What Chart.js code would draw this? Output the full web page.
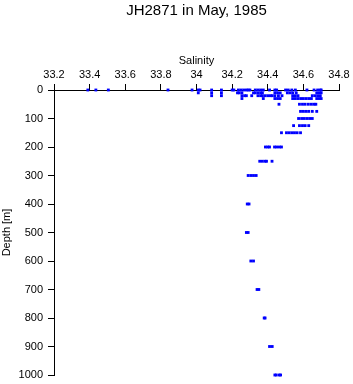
<!DOCTYPE html>
<html>
<head>
<meta charset="utf-8">
<script src="https://cdn.jsdelivr.net/npm/chart.js@4/dist/chart.umd.min.js"></script>
<style>
  body { margin: 0; background: #fff; }
  canvas { display: block; }
</style>
</head>
<body>
<canvas id="profile" width="353" height="384"></canvas>
<script>
// sampled depths (m) and the salinities measured at each of them
const depths = [0, 10, 20, 30, 50, 75, 100, 125, 150, 200, 250, 300, 400, 500, 600, 700, 800, 900, 1000];
const salinities = [
    [33.39, 33.435, 33.505, 33.84, 33.975, 34.01, 34.02, 34.085, 34.14, 34.2, 34.21, 34.235, 34.25, 34.265, 34.28, 34.29, 34.3, 34.33, 34.345, 34.36, 34.375, 34.41, 34.44, 34.45, 34.5, 34.515, 34.535, 34.555, 34.62, 34.66, 34.68, 34.695, 34.7],
    [34.01, 34.085, 34.14, 34.23, 34.24, 34.255, 34.32, 34.33, 34.345, 34.36, 34.37, 34.44, 34.455, 34.47, 34.51, 34.525, 34.54, 34.56, 34.675, 34.69, 34.7],
    [34.085, 34.14, 34.255, 34.27, 34.28, 34.31, 34.345, 34.36, 34.37, 34.385, 34.4, 34.415, 34.425, 34.44, 34.46, 34.48, 34.54, 34.555, 34.57, 34.65, 34.665, 34.68, 34.695],
    [34.255, 34.375, 34.44, 34.455, 34.47, 34.54, 34.555, 34.57, 34.585, 34.6, 34.615, 34.63, 34.645, 34.675, 34.69, 34.7],
    [34.463, 34.578, 34.595, 34.61, 34.628, 34.645, 34.66, 34.67],
    [34.584, 34.6, 34.615, 34.63, 34.65, 34.675],
    [34.573, 34.59, 34.605, 34.62, 34.635, 34.65],
    [34.545, 34.578, 34.595, 34.61, 34.63],
    [34.477, 34.505, 34.52, 34.535, 34.55, 34.565, 34.584],
    [34.387, 34.4, 34.41, 34.438, 34.45, 34.465, 34.477],
    [34.355, 34.37, 34.385, 34.393, 34.424],
    [34.29, 34.305, 34.32, 34.335],
    [34.285, 34.295],
    [34.28, 34.29],
    [34.305, 34.32],
    [34.34, 34.35],
    [34.38, 34.385],
    [34.41, 34.425],
    [34.44, 34.448, 34.465, 34.472]
];

const points = [];
depths.forEach((d, i) => {
    salinities[i].forEach(s => points.push({ x: s, y: d }));
});

const font = 'Liberation Sans, Arial, Helvetica, sans-serif';

new Chart(document.getElementById('profile'), {
    type: 'scatter',
    data: {
        datasets: [{
            data: points,
            pointStyle: 'rect',
            pointRadius: 2,
            pointBorderWidth: 0,
            backgroundColor: '#0000ff',
            clip: false
        }]
    },
    options: {
        responsive: false,
        animation: false,
        layout: { padding: { left: 0, right: 14, top: 0, bottom: 9 } },
        plugins: {
            legend: { display: false },
            tooltip: { enabled: false },
            title: {
                display: true,
                fullSize: false,
                text: 'JH2871 in May, 1985',
                color: '#000',
                font: { family: font, size: 15, weight: 'normal' },
                padding: { top: 2, bottom: 2 }
            }
        },
        scales: {
            x: {
                type: 'linear',
                position: 'top',
                min: 33.2,
                max: 34.8,
                afterFit: (scale) => { scale.height = 90 - 22; },
                ticks: {
                    stepSize: 0.2,
                    color: '#000',
                    padding: 2,
                    font: { family: font, size: 11 },
                    callback: (v) => String(+v.toFixed(1))
                },
                grid: { drawOnChartArea: false, tickLength: 6, color: '#000' },
                border: { color: '#000' },
                title: {
                    display: true,
                    text: 'Salinity',
                    color: '#000',
                    font: { family: font, size: 11 },
                    padding: { top: 32, bottom: 0 }
                }
            },
            y: {
                type: 'linear',
                reverse: true,
                min: 0,
                max: 1000,
                afterFit: (scale) => {
                    scale.width = 54;
                    scale.paddingTop = 0;
                    scale.paddingBottom = 0;
                },
                ticks: {
                    stepSize: 100,
                    color: '#000',
                    padding: 5,
                    font: { family: font, size: 11 },
                    callback: (v) => String(v)
                },
                grid: { drawOnChartArea: false, tickLength: 6, color: '#000' },
                border: { color: '#000' },
                title: {
                    display: true,
                    text: 'Depth [m]',
                    color: '#000',
                    font: { family: font, size: 11 },
                    padding: { top: 0, bottom: 0 }
                }
            }
        }
    }
});
</script>
</body>
</html>
